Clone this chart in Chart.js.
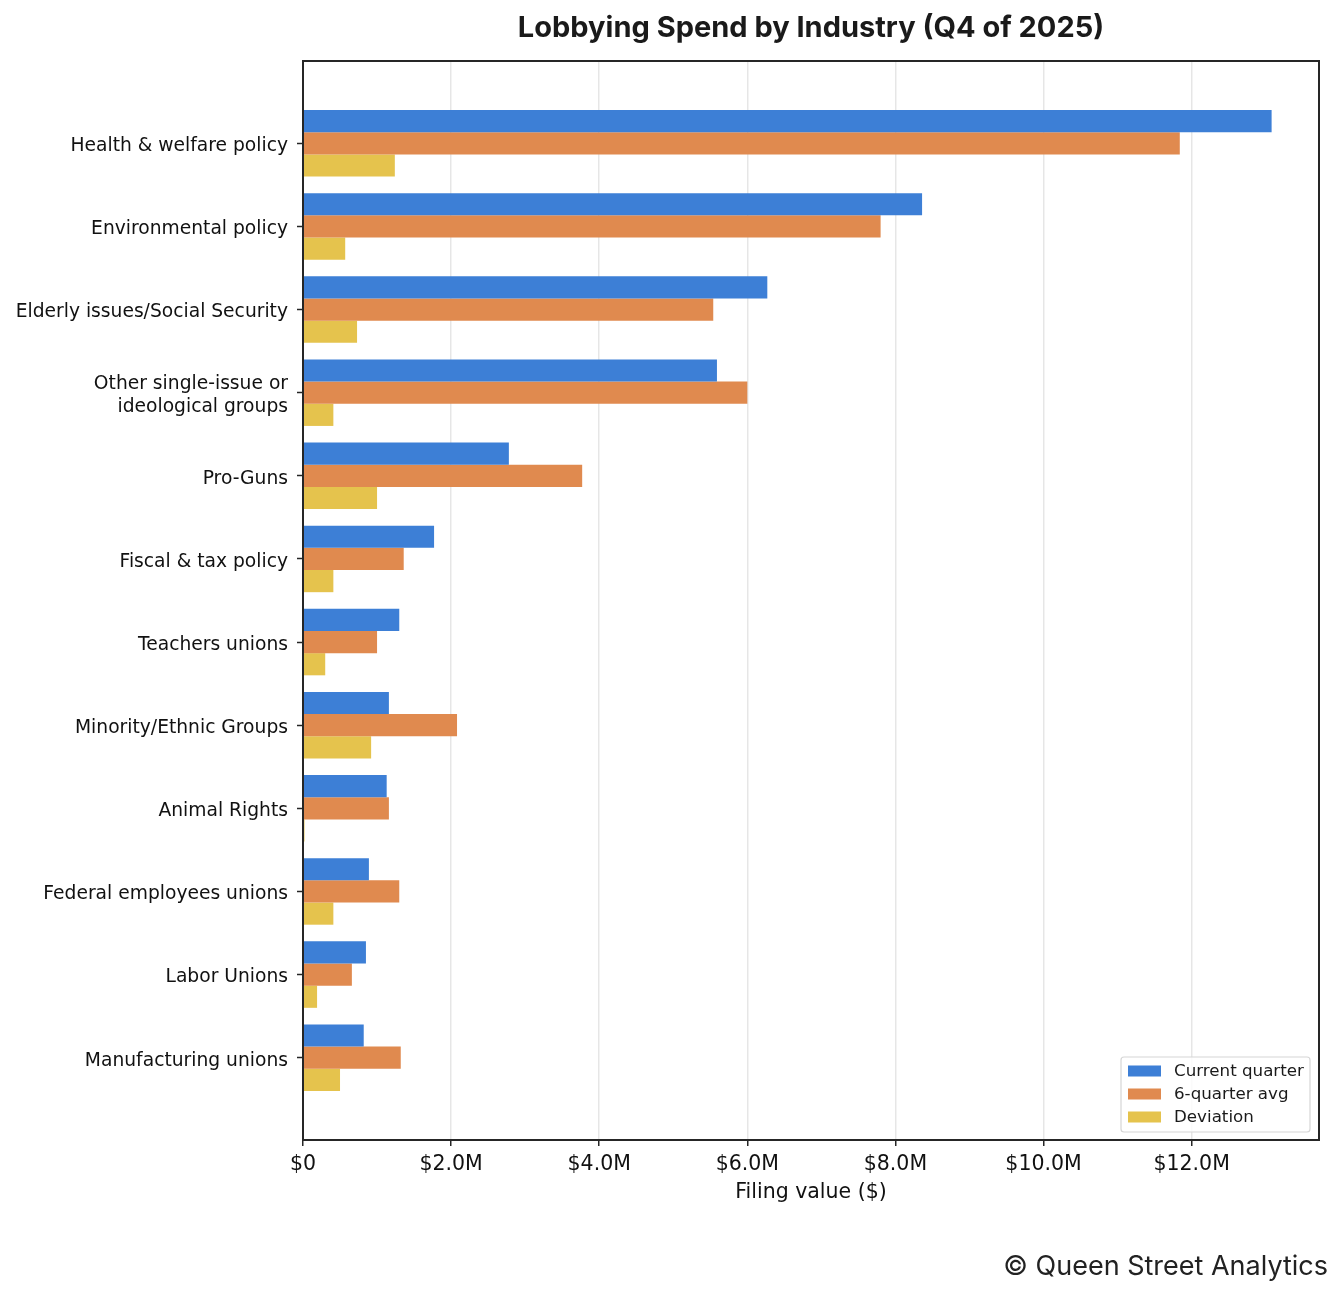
<!DOCTYPE html>
<html>
<head>
<meta charset="utf-8">
<script src="https://cdn.jsdelivr.net/npm/chart.js@4.4.0/dist/chart.umd.min.js"></script>
<style>
  html, body { margin: 0; padding: 0; background: #fff; }
</style>
</head>
<body>
<canvas id="chart" width="1343" height="1296"></canvas>
<script>
// values in millions of dollars
const industries = [
  'Health & welfare policy',
  'Environmental policy',
  'Elderly issues/Social Security',
  ['Other single-issue or', 'ideological groups'],
  'Pro-Guns',
  'Fiscal & tax policy',
  'Teachers unions',
  'Minority/Ethnic Groups',
  'Animal Rights',
  'Federal employees unions',
  'Labor Unions',
  'Manufacturing unions'
];
const currentQuarter = [13.08, 8.36, 6.27, 5.59, 2.78, 1.77, 1.30, 1.16, 1.13, 0.89, 0.85, 0.82];
const sixQuarterAvg = [11.84, 7.80, 5.54, 6.00, 3.77, 1.36, 1.00, 2.08, 1.16, 1.30, 0.66, 1.32];
const deviation = [1.24, 0.57, 0.73, 0.41, 1.00, 0.41, 0.30, 0.92, 0.02, 0.41, 0.19, 0.50];
const xTicks = [0, 2, 4, 6, 8, 10, 12];

const colors = {
  current: '#3d7fd6',
  avg: '#e08a4f',
  deviation: '#e5c34d',
  frame: '#262626'
};

function toPoints(values) {
  return values.map((v, i) => ({ x: v, y: i }));
}

function formatMoney(v) {
  return v === 0 ? '$0' : `$${v.toFixed(1)}M`;
}

const decorations = {
  id: 'decorations',
  afterDraw(chart) {
    const { ctx, chartArea } = chart;
    const { left, right, top, bottom } = chartArea;
    ctx.save();

    // frame
    ctx.strokeStyle = colors.frame;
    ctx.lineWidth = 2;
    ctx.strokeRect(left, top, right - left, bottom - top);

    // title
    ctx.fillStyle = '#1a1a1a';
    ctx.font = 'bold 29px Inter';
    ctx.textAlign = 'center';
    ctx.textBaseline = 'middle';
    ctx.fillText('Lobbying Spend by Industry (Q4 of 2025)', (left + right) / 2, 28);

    // x axis title
    ctx.font = '20.5px "DejaVu Sans"';
    ctx.fillStyle = '#111';
    ctx.fillText('Filing value ($)', (left + right) / 2, 1193);

    // footer
    ctx.font = '27px Inter';
    ctx.fillStyle = '#222';
    ctx.textAlign = 'right';
    ctx.fillText('\u00A9 Queen Street Analytics', 1328, 1267);

    // legend
    const entries = [
      ['Current quarter', colors.current],
      ['6-quarter avg', colors.avg],
      ['Deviation', colors.deviation]
    ];
    const bx = 1121, by = 1057, bw = 189, bh = 75;
    ctx.fillStyle = 'rgba(255,255,255,0.85)';
    ctx.strokeStyle = '#d6d6d6';
    ctx.lineWidth = 1.2;
    ctx.beginPath();
    ctx.roundRect(bx, by, bw, bh, 3);
    ctx.fill();
    ctx.stroke();
    ctx.font = '16.7px "DejaVu Sans"';
    ctx.textAlign = 'left';
    entries.forEach(([label, color], i) => {
      const cy = 1071 + i * 23;
      ctx.fillStyle = color;
      ctx.fillRect(1128, cy - 5.5, 33, 11);
      ctx.fillStyle = '#1a1a1a';
      ctx.fillText(label, 1174, cy + 1);
    });

    ctx.restore();
  }
};

new Chart(document.getElementById('chart'), {
  type: 'bar',
  data: {
    datasets: [
      { label: 'Current quarter', data: toPoints(currentQuarter), backgroundColor: colors.current },
      { label: '6-quarter avg', data: toPoints(sixQuarterAvg), backgroundColor: colors.avg },
      { label: 'Deviation', data: toPoints(deviation), backgroundColor: colors.deviation }
    ]
  },
  options: {
    indexAxis: 'y',
    responsive: false,
    animation: false,
    layout: { padding: { left: 0, right: 24, top: 61, bottom: 0 } },
    datasets: {
      bar: { categoryPercentage: 0.8, barPercentage: 1.0, borderWidth: 0 }
    },
    scales: {
      x: {
        type: 'linear',
        min: 0,
        max: 13.72,
        z: 1,
        afterBuildTicks: scale => { scale.ticks = xTicks.map(v => ({ value: v })); },
        afterFit: scale => { scale.height = 156; },
        grid: {
          color: 'rgba(200,200,200,0.45)',
          lineWidth: 1.5,
          tickColor: colors.frame,
          tickLength: 6,
          tickWidth: 1.5
        },
        border: { display: false },
        ticks: {
          color: '#111',
          font: { family: 'DejaVu Sans', size: 20.5 },
          padding: 6,
          maxRotation: 0,
          callback: v => formatMoney(v)
        }
      },
      y: {
        type: 'linear',
        min: -0.99,
        max: 11.99,
        reverse: true,
        offset: false,
        afterBuildTicks: scale => { scale.ticks = industries.map((_, i) => ({ value: i })); },
        afterFit: scale => { scale.width = 303; },
        grid: {
          offset: false,
          drawOnChartArea: false,
          tickColor: colors.frame,
          tickLength: 6,
          tickWidth: 1.5
        },
        border: { display: false },
        ticks: {
          color: '#111',
          font: { family: 'DejaVu Sans', size: 18.7, lineHeight: 1.2 },
          padding: 9,
          labelOffset: 3,
          autoSkip: false,
          callback: v => industries[v]
        }
      }
    },
    plugins: {
      legend: { display: false },
      title: { display: false },
      tooltip: { enabled: false }
    }
  },
  plugins: [decorations]
});
</script>
</body>
</html>
